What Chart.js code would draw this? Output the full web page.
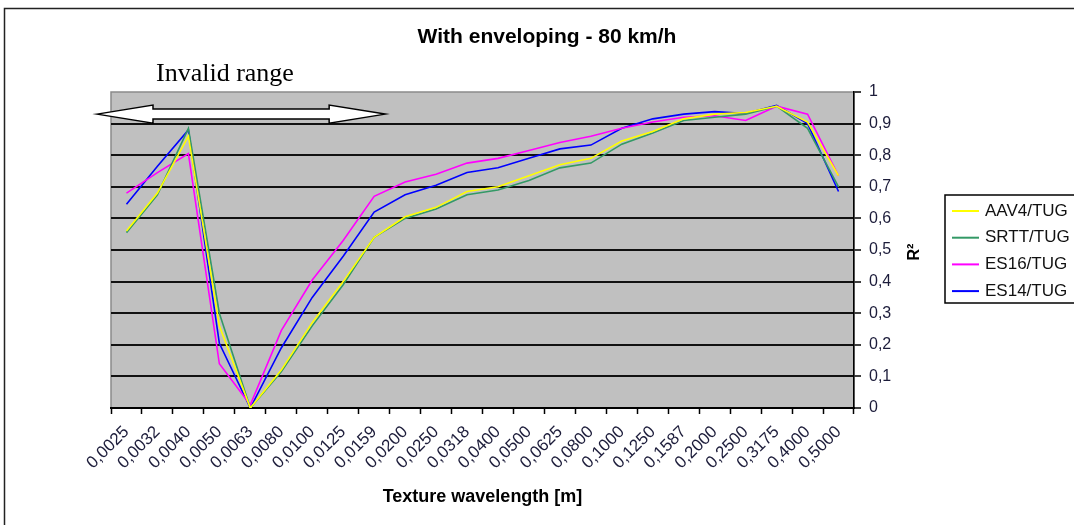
<!DOCTYPE html>
<html>
<head>
<meta charset="utf-8">
<script src="https://cdn.jsdelivr.net/npm/chart.js@4/dist/chart.umd.min.js"></script>
<style>
  body { margin: 0; background: #fff; }
  #wrap { width: 1074px; height: 525px; position: relative; }
</style>
</head>
<body>
<div id="wrap"><canvas id="dataChart"></canvas></div>
<script>
// texture wavelength classes [m]
var wavelengths = ["0,0025", "0,0032", "0,0040", "0,0050", "0,0063", "0,0080", "0,0100", "0,0125",
                   "0,0159", "0,0200", "0,0250", "0,0318", "0,0400", "0,0500", "0,0625", "0,0800",
                   "0,1000", "0,1250", "0,1587", "0,2000", "0,2500", "0,3175", "0,4000", "0,5000"];

// R² per wavelength
var aav4 = [0.56, 0.68, 0.86, 0.26, 0.00, 0.12, 0.27, 0.40, 0.54, 0.605, 0.635, 0.685,
            0.70, 0.735, 0.77, 0.79, 0.845, 0.875, 0.915, 0.93, 0.935, 0.955, 0.905, 0.735];
var srtt = [0.555, 0.675, 0.885, 0.30, 0.00, 0.115, 0.26, 0.39, 0.54, 0.60, 0.63, 0.675,
            0.69, 0.72, 0.76, 0.775, 0.835, 0.87, 0.91, 0.92, 0.93, 0.955, 0.885, 0.70];
var es16 = [0.68, 0.745, 0.805, 0.14, 0.01, 0.245, 0.405, 0.53, 0.67, 0.715, 0.74, 0.775,
            0.79, 0.815, 0.84, 0.86, 0.885, 0.905, 0.92, 0.925, 0.91, 0.955, 0.93, 0.735];
var es14 = [0.645, 0.765, 0.88, 0.205, 0.00, 0.19, 0.35, 0.48, 0.62, 0.675, 0.705, 0.745,
            0.76, 0.79, 0.82, 0.832, 0.885, 0.915, 0.93, 0.938, 0.932, 0.958, 0.90, 0.685];

var sans = "'Liberation Sans', Arial, sans-serif";
var serif = "'Liberation Serif', 'Times New Roman', serif";

// background, frame, arrow, texts and legend box
var decor = {
  id: 'decor',
  beforeDraw: function (chart) {
    var c = chart.ctx, a = chart.chartArea;
    c.save();
    c.fillStyle = '#fff';
    c.fillRect(0, 0, chart.width, chart.height);
    c.strokeStyle = '#222';
    c.lineWidth = 1.5;
    c.strokeRect(4.5, 8.5, chart.width + 20, chart.height + 20);
    c.fillStyle = '#c0c0c0';
    c.fillRect(a.left, a.top, a.right - a.left, a.bottom - a.top);
    c.strokeStyle = '#8a8a8a';
    c.lineWidth = 1.5;
    c.strokeRect(a.left, a.top, a.right - a.left, a.bottom - a.top);
    c.restore();
  },
  afterDraw: function (chart) {
    var c = chart.ctx, a = chart.chartArea;
    var xs = chart.scales.x, ys = chart.scales.y;
    c.save();

    // title
    c.fillStyle = '#000';
    c.font = 'bold 21px ' + sans;
    c.textAlign = 'center';
    c.textBaseline = 'middle';
    c.fillText('With enveloping - 80 km/h', 547, 37);

    // invalid range note + double arrow
    c.font = '26px ' + serif;
    c.textAlign = 'left';
    c.textBaseline = 'alphabetic';
    c.fillText('Invalid range', 156, 81);

    var yc = ys.getPixelForValue(0.93);
    var xl = a.left - 14, xr = xs.getPixelForValue(8) + 11;
    var hl = 56, hh = 9, sh = 5;
    c.beginPath();
    c.moveTo(xl, yc);
    c.lineTo(xl + hl, yc - hh);
    c.lineTo(xl + hl, yc - sh);
    c.lineTo(xr - hl, yc - sh);
    c.lineTo(xr - hl, yc - hh);
    c.lineTo(xr, yc);
    c.lineTo(xr - hl, yc + hh);
    c.lineTo(xr - hl, yc + sh);
    c.lineTo(xl + hl, yc + sh);
    c.lineTo(xl + hl, yc + hh);
    c.closePath();
    c.fillStyle = '#fff';
    c.fill();
    c.strokeStyle = '#000';
    c.lineWidth = 1.5;
    c.stroke();

    // y axis title
    c.save();
    c.translate(915, 252);
    c.rotate(-Math.PI / 2);
    c.font = 'bold 16px ' + sans;
    c.textAlign = 'center';
    c.textBaseline = 'middle';
    c.fillStyle = '#000';
    c.fillText('R²', 0, 0);
    c.restore();

    // legend
    c.fillStyle = '#fff';
    c.fillRect(945, 195, 140, 108);
    c.strokeStyle = '#000';
    c.lineWidth = 1.5;
    c.strokeRect(945, 195, 140, 108);
    c.font = '17px ' + sans;
    c.textAlign = 'left';
    c.textBaseline = 'middle';
    chart.data.datasets.forEach(function (ds, i) {
      var y = 211 + i * 26.7;
      c.strokeStyle = ds.borderColor;
      c.lineWidth = 2;
      c.beginPath();
      c.moveTo(952, y);
      c.lineTo(979, y);
      c.stroke();
      c.fillStyle = '#111';
      c.fillText(ds.label, 985, y);
    });
    c.restore();
  }
};

var ctx = document.getElementById('dataChart');

var chart = new Chart(ctx, {
  type: 'line',
  data: {
    labels: wavelengths,
    datasets: [
      { label: 'AAV4/TUG', data: aav4, borderColor: '#ffff00' },
      { label: 'SRTT/TUG', data: srtt, borderColor: '#339966' },
      { label: 'ES16/TUG', data: es16, borderColor: '#ff00ff' },
      { label: 'ES14/TUG', data: es14, borderColor: '#0000ff' }
    ]
  },
  options: {
    responsive: true,
    maintainAspectRatio: false,
    animation: false,
    layout: { padding: { left: 111, top: 92, right: 0, bottom: 0 } },
    elements: {
      line: { borderWidth: 1.6, tension: 0, fill: false },
      point: { radius: 0 }
    },
    plugins: {
      legend: { display: false },
      tooltip: { enabled: false }
    },
    scales: {
      x: {
        offset: true,
        afterFit: function (s) { s.height = 117; },
        grid: { offset: true, drawOnChartArea: false, tickLength: 6, tickColor: '#000', tickWidth: 1.5 },
        border: { display: true, color: '#000', width: 2 },
        ticks: {
          autoSkip: false, minRotation: 45, maxRotation: 45, padding: 8,
          color: '#1c1c3a', font: { family: sans, size: 17 }
        },
        title: {
          display: true, text: 'Texture wavelength [m]', color: '#000',
          font: { family: sans, size: 18, weight: 'bold' }, padding: { top: 0, bottom: 17 }
        }
      },
      y: {
        position: 'right',
        min: 0, max: 1,
        afterFit: function (s) { s.width = 220; },
        grid: {
          color: function (c) { return c.tick.value >= 1 ? 'rgba(0,0,0,0)' : '#111'; },
          lineWidth: 2, tickLength: 7, tickColor: '#000', tickWidth: 1.5
        },
        border: { display: true, color: '#000', width: 1.5 },
        ticks: {
          stepSize: 0.1, padding: 8, color: '#1c1c3a', font: { family: sans, size: 16 },
          callback: function (v) { return String(Math.round(v * 10) / 10).replace('.', ','); }
        }
      }
    }
  },
  plugins: [decor]
});
</script>
</body>
</html>
